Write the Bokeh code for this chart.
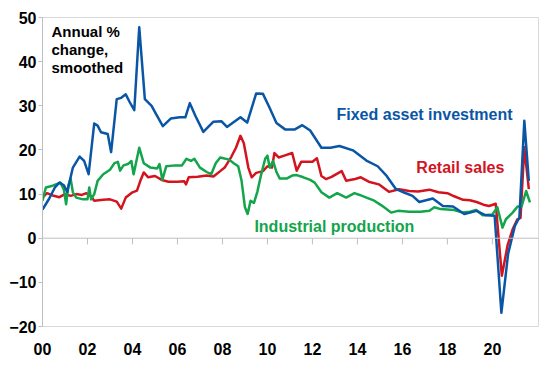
from bokeh.plotting import figure
from bokeh.models import Range1d, FixedTicker, Span, Label
from bokeh.embed import file_html
from bokeh.resources import INLINE

# ---------------- data ----------------
x_ticks = [2000, 2002, 2004, 2006, 2008, 2010, 2012, 2014, 2016, 2018, 2020]
x_labels = ["00", "02", "04", "06", "08", "10", "12", "14", "16", "18", "20"]
y_ticks = [-20, -10, 0, 10, 20, 30, 40, 50]

fai_years = [2000.0, 2000.3, 2000.55, 2000.75, 2000.95, 2001.1, 2001.35, 2001.65, 2001.85, 2002.05,
             2002.3, 2002.45, 2002.6, 2002.9, 2003.05, 2003.3, 2003.5, 2003.7, 2003.88, 2004.08,
             2004.3, 2004.55, 2004.85, 2005.05, 2005.35, 2005.7, 2006.1, 2006.35, 2006.55, 2006.8,
             2007.15, 2007.6, 2007.95, 2008.2, 2008.8, 2009.1, 2009.5, 2009.8, 2010.1, 2010.4,
             2010.8, 2011.2, 2011.55, 2011.9, 2012.4, 2012.8, 2013.2, 2013.8, 2014.4, 2014.9,
             2015.3, 2015.7, 2016.1, 2016.45, 2016.75, 2017.35, 2017.8, 2018.25, 2018.75, 2019.3,
             2019.7, 2020.1, 2020.4, 2020.7, 2021.0, 2021.2, 2021.42, 2021.62]
fai_vals = [6.5, 9.0, 11.5, 12.6, 12.0, 10.5, 16.0, 18.5, 17.5, 14.5,
            26.0, 25.5, 24.0, 23.6, 19.5, 31.5, 31.8, 32.6, 30.8, 29.0,
            47.8, 31.5, 30.0, 28.1, 25.4, 27.1, 27.4, 27.4, 30.6, 27.7,
            24.1, 26.4, 26.5, 25.2, 27.4, 26.2, 32.8, 32.7, 29.5, 26.1,
            24.6, 24.6, 25.6, 24.4, 20.5, 20.5, 20.9, 19.9, 17.6, 16.3,
            14.1, 11.2, 10.3, 9.6, 8.2, 9.0, 7.3, 7.2, 5.5, 6.2,
            5.2, 5.1, -16.9, -3.5, 2.8, 4.7, 26.6, 13.0]

rs_years = [2000.0, 2000.2, 2000.5, 2000.75, 2001.0, 2001.25, 2001.5, 2001.75, 2001.95, 2002.15,
            2002.3, 2002.7, 2003.0, 2003.3, 2003.5, 2003.7, 2004.0, 2004.2, 2004.35, 2004.5,
            2004.7, 2005.0, 2005.3, 2005.6, 2006.0, 2006.3, 2006.38, 2006.5, 2006.9, 2007.3,
            2007.6, 2007.9, 2008.1, 2008.4, 2008.6, 2008.8, 2008.95, 2009.15, 2009.3, 2009.5,
            2009.8, 2010.0, 2010.2, 2010.31, 2010.5, 2010.75, 2011.1, 2011.3, 2011.5, 2012.0,
            2012.2, 2012.4, 2012.6, 2012.85, 2013.3, 2013.5, 2013.9, 2014.15, 2014.5, 2014.95,
            2015.4, 2015.85, 2016.3, 2016.7, 2017.2, 2017.6, 2018.0, 2018.3, 2018.7, 2019.0,
            2019.3, 2019.6, 2019.85, 2020.15, 2020.42, 2020.68, 2020.9, 2021.1, 2021.25, 2021.42,
            2021.62]
rs_vals = [9.2, 10.2, 9.6, 9.3, 10.0, 9.6, 10.0, 9.8, 10.2, 9.5,
           8.5, 8.7, 8.8, 8.3, 6.7, 9.2, 10.4, 10.8, 13.0, 14.9,
           13.8, 14.1, 13.2, 12.8, 12.8, 12.9, 12.2, 13.8, 13.9, 14.2,
           14.0, 15.2, 16.0, 18.5, 20.5, 23.2, 21.5, 16.0, 13.8, 14.8,
           15.2, 16.3, 16.0, 19.3, 18.3, 18.7, 19.3, 15.3, 17.3, 17.3,
           18.1, 14.1, 13.4, 13.9, 15.2, 13.0, 13.4, 13.8, 12.8, 12.2,
           10.5, 11.1, 10.7, 10.6, 11.0, 10.4, 10.2, 9.5, 8.7, 8.6,
           8.2, 7.6, 7.3, 7.8, -8.5, -1.5, 2.0, 4.2, 4.6, 20.6,
           11.1]

ip_years = [2000.0, 2000.15, 2000.45, 2000.8, 2000.95, 2001.05, 2001.15, 2001.25, 2001.35, 2001.5,
            2001.8, 2002.0, 2002.08, 2002.16, 2002.3, 2002.45, 2002.7, 2003.0, 2003.2, 2003.35,
            2003.45, 2003.6, 2003.8, 2003.95, 2004.05, 2004.3, 2004.5, 2004.8, 2005.1, 2005.2,
            2005.33, 2005.5, 2005.9, 2006.2, 2006.4, 2006.6, 2006.75, 2007.0, 2007.3, 2007.5,
            2007.7, 2007.9, 2008.3, 2008.5, 2008.7, 2008.85, 2009.0, 2009.12, 2009.25, 2009.4,
            2009.55, 2009.7, 2009.9, 2010.0, 2010.1, 2010.25, 2010.4, 2010.55, 2010.85, 2011.1,
            2011.3, 2011.6, 2011.9, 2012.1, 2012.4, 2012.75, 2013.1, 2013.5, 2013.87, 2014.1,
            2014.4, 2014.75, 2015.05, 2015.35, 2015.5, 2015.8, 2016.3, 2016.8, 2017.2, 2017.42,
            2017.7, 2018.3, 2018.68, 2019.0, 2019.28, 2019.57, 2020.0, 2020.22, 2020.45, 2020.6,
            2020.9, 2021.12, 2021.3, 2021.5, 2021.67]
ip_vals = [8.5, 11.5, 11.9, 12.6, 11.0, 7.7, 11.9, 13.5, 10.4, 9.2,
           8.8, 8.8, 11.5, 8.8, 10.0, 13.0, 14.5, 15.5, 17.0, 17.3,
           15.3, 16.5, 16.8, 17.5, 14.5, 20.5, 17.0, 16.0, 15.8, 16.8,
           13.2, 16.3, 16.5, 16.5, 18.0, 17.5, 18.0, 16.0, 15.0, 14.5,
           17.0, 18.3, 17.8, 17.0, 16.3, 13.0, 7.0, 5.5, 8.5, 8.0,
           10.5, 14.0, 18.0, 18.7, 16.0, 17.5, 15.0, 13.5, 13.5, 14.2,
           14.3, 13.8, 13.2, 12.6, 10.4, 9.2, 10.2, 9.2, 10.2, 9.8,
           9.2, 8.5, 7.5, 6.4, 5.8, 6.2, 6.0, 6.0, 6.2, 7.0,
           6.6, 6.4, 5.8, 6.0, 6.4, 5.2, 5.4, 7.0, 2.4, 4.3,
           5.8, 7.2, 7.2, 10.7, 8.1]

BLUE = "#0a56a6"
RED = "#d3141f"
GREEN = "#13a54b"
FONT = "Liberation Sans"

# ---------------- figure ----------------
p = figure(width=539, height=357, output_backend="svg", toolbar_location=None,
           x_range=Range1d(2000, 2022.05), y_range=Range1d(-20, 50),
           min_border_left=42, min_border_right=1, min_border_top=17, min_border_bottom=31)
p.xgrid.visible = False
p.ygrid.visible = False
p.outline_line_color = "#d9d9d9"
p.outline_line_width = 1
p.background_fill_color = "white"
p.border_fill_color = "white"

# y axis
p.yaxis.ticker = FixedTicker(ticks=y_ticks)
p.yaxis.axis_line_color = "#bfbfbf"
p.yaxis.major_tick_line_color = "#bfbfbf"
p.yaxis.major_tick_out = 4
p.yaxis.major_tick_in = 0
p.yaxis.minor_tick_line_color = None
p.yaxis.major_label_standoff = 2
p.yaxis.major_label_text_font = FONT
p.yaxis.major_label_text_font_style = "bold"
p.yaxis.major_label_text_font_size = "16px"
p.yaxis.major_label_text_color = "black"

# x axis (labels only; the axis line is the zero line)
p.xaxis.ticker = FixedTicker(ticks=x_ticks)
p.xaxis.major_label_overrides = {t: l for t, l in zip(x_ticks, x_labels)}
p.xaxis.axis_line_color = None
p.xaxis.major_tick_line_color = None
p.xaxis.minor_tick_line_color = None
p.xaxis.major_label_standoff = 10
p.xaxis.major_label_text_font = FONT
p.xaxis.major_label_text_font_style = "bold"
p.xaxis.major_label_text_font_size = "16px"
p.xaxis.major_label_text_color = "black"

# zero line with tick marks
p.add_layout(Span(location=0, dimension="width", line_color="#bfbfbf", line_width=1))
p.segment(x0=x_ticks[1:], y0=[0] * (len(x_ticks) - 1), x1=x_ticks[1:], y1=[-1.4] * (len(x_ticks) - 1),
          line_color="#bfbfbf", line_width=1)

# series
p.line(rs_years, rs_vals, line_color=RED, line_width=2.5, line_join="round")
p.line(ip_years, ip_vals, line_color=GREEN, line_width=2.5, line_join="round")
p.line(fai_years, fai_vals, line_color=BLUE, line_width=2.5, line_join="round")

# labels
def lab(x, y, text, color, size="16px"):
    p.add_layout(Label(x=x, y=y, text=text, text_color=color, text_font=FONT,
                       text_font_style="bold", text_font_size=size,
                       text_baseline="middle", text_align="left"))

lab(2013.07, 28.1, "Fixed asset investment", BLUE)
lab(2016.62, 16.1, "Retail sales", RED)
lab(2009.42, 2.7, "Industrial production", GREEN)
lab(2000.4, 46.9, "Annual %", "black", "15px")
lab(2000.4, 42.8, "change,", "black", "15px")
lab(2000.4, 38.7, "smoothed", "black", "15px")

open("out.html", "w").write(file_html(p, INLINE))
